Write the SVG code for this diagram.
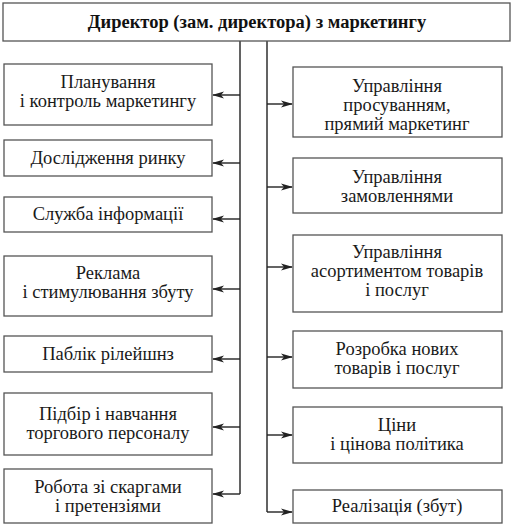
<svg xmlns="http://www.w3.org/2000/svg" width="513" height="526" viewBox="0 0 513 526">
<defs>
<style>
.box{fill:#fff;stroke:#555;stroke-width:1.3}
.t{font-family:"Liberation Serif","Times New Roman",serif;font-size:18.5px;fill:#1a1a1a;text-anchor:middle}
.title{font-family:"Liberation Serif","Times New Roman",serif;font-size:18.5px;font-weight:bold;fill:#111;text-anchor:middle}
.ln{fill:none;stroke:#222;stroke-width:1.4}
</style>
<marker id="ah" viewBox="0 0 12 8" refX="11" refY="4" markerWidth="12" markerHeight="8" markerUnits="userSpaceOnUse" orient="auto">
<path d="M0,0.5 L12,4 L0,7.5 L3,4 Z" fill="#222"/>
</marker>
</defs>
<rect width="513" height="526" fill="#fff"/>
<g id="connectors">
<path class="ln" d="M240,41 V494 M267,41 V512"/>
<path class="ln" marker-end="url(#ah)" d="M240,95 H213"/>
<path class="ln" marker-end="url(#ah)" d="M240,163 H213"/>
<path class="ln" marker-end="url(#ah)" d="M240,219 H213"/>
<path class="ln" marker-end="url(#ah)" d="M240,289 H213"/>
<path class="ln" marker-end="url(#ah)" d="M240,359 H213"/>
<path class="ln" marker-end="url(#ah)" d="M240,427 H213"/>
<path class="ln" marker-end="url(#ah)" d="M240,494 H213"/>
<path class="ln" marker-end="url(#ah)" d="M267,104 H292"/>
<path class="ln" marker-end="url(#ah)" d="M267,187 H292"/>
<path class="ln" marker-end="url(#ah)" d="M267,267 H292"/>
<path class="ln" marker-end="url(#ah)" d="M267,357 H292"/>
<path class="ln" marker-end="url(#ah)" d="M267,435 H292"/>
<path class="ln" marker-end="url(#ah)" d="M267,512 H292"/>
</g>
<g id="director"><rect class="box" x="3" y="3" width="507" height="38"/><text class="title" x="257" y="28">Директор (зам. директора) з маркетингу</text></g>
<g id="l1"><rect class="box" x="4" y="64" width="208" height="61"/><text class="t" x="108" y="88">Планування</text><text class="t" x="108" y="107">і контроль маркетингу</text></g>
<g id="l2"><rect class="box" x="4" y="140" width="208" height="36"/><text class="t" x="108" y="164">Дослідження ринку</text></g>
<g id="l3"><rect class="box" x="4" y="197" width="208" height="35"/><text class="t" x="108" y="220">Служба інформації</text></g>
<g id="l4"><rect class="box" x="4" y="256" width="208" height="60"/><text class="t" x="108" y="279">Реклама</text><text class="t" x="108" y="298">і стимулювання збуту</text></g>
<g id="l5"><rect class="box" x="4" y="336" width="208" height="36"/><text class="t" x="108" y="360">Паблік рілейшнз</text></g>
<g id="l6"><rect class="box" x="4" y="393" width="208" height="62"/><text class="t" x="108" y="420">Підбір і навчання</text><text class="t" x="108" y="439">торгового персоналу</text></g>
<g id="l7"><rect class="box" x="4" y="469" width="208" height="54"/><text class="t" x="108" y="493">Робота зі скаргами</text><text class="t" x="108" y="512">і претензіями</text></g>
<g id="r1"><rect class="box" x="293" y="67" width="209" height="70"/><text class="t" x="397" y="92">Управління</text><text class="t" x="397" y="111">просуванням,</text><text class="t" x="397" y="130">прямий маркетинг</text></g>
<g id="r2"><rect class="box" x="293" y="158" width="209" height="55"/><text class="t" x="397" y="183">Управління</text><text class="t" x="397" y="202">замовленнями</text></g>
<g id="r3"><rect class="box" x="293" y="235" width="209" height="77"/><text class="t" x="397" y="258">Управління</text><text class="t" x="397" y="277">асортиментом товарів</text><text class="t" x="397" y="296">і послуг</text></g>
<g id="r4"><rect class="box" x="293" y="331" width="209" height="57"/><text class="t" x="397" y="355">Розробка нових</text><text class="t" x="397" y="374">товарів і послуг</text></g>
<g id="r5"><rect class="box" x="293" y="407" width="209" height="56"/><text class="t" x="397" y="431">Ціни</text><text class="t" x="397" y="450">і цінова політика</text></g>
<g id="r6"><rect class="box" x="293" y="490" width="209" height="33"/><text class="t" x="397" y="512">Реалізація (збут)</text></g>
</svg>
